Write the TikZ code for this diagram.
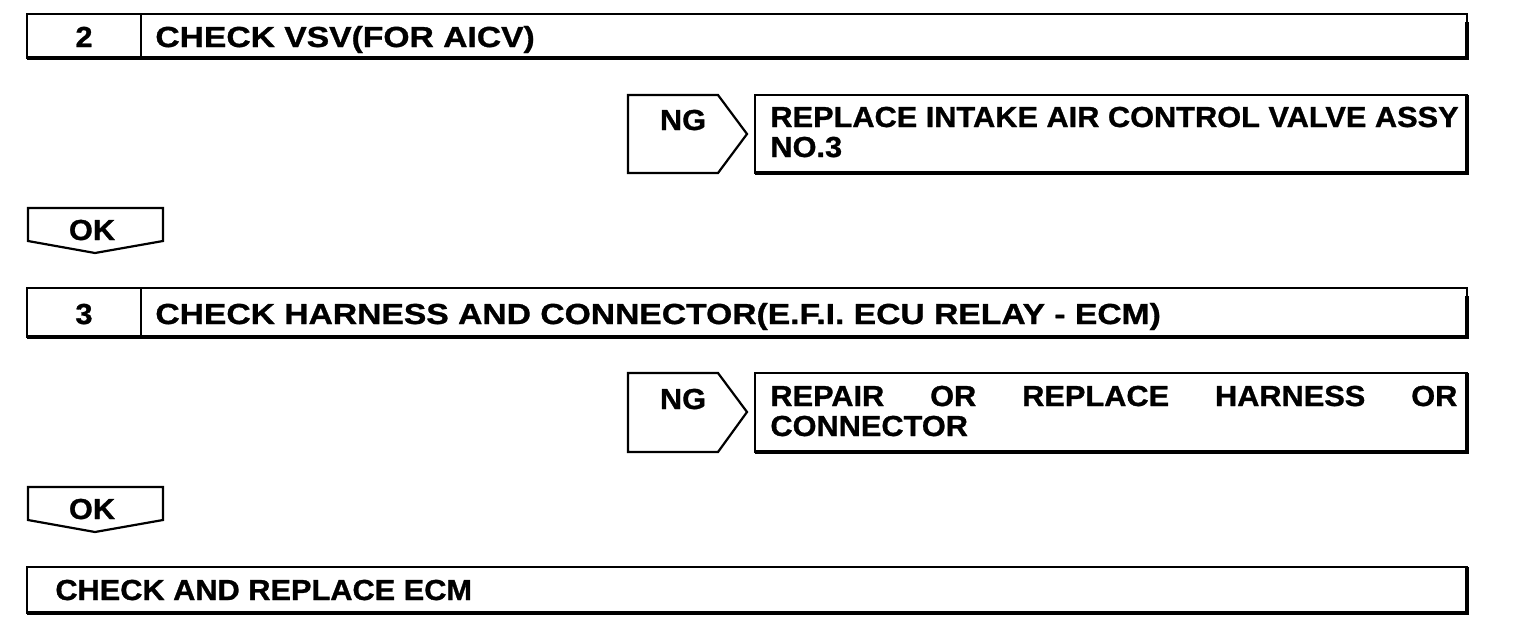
\documentclass[tikz,border=0pt]{standalone}
\usepackage{fontspec}
\setmainfont{Liberation Sans}
\newfontfamily\stepfont[FakeStretch=1.16,FakeBold=1]{Liberation Sans Bold}
\newfontfamily\bodyfont[FakeStretch=1.06,FakeBold=1]{Liberation Sans Bold}
\begin{document}
\begin{tikzpicture}[x=0.5pt,y=-0.5pt,
  frame/.style={line width=1.1pt,line join=miter},
  heavy/.style={line width=2pt},
  lbl/.style={inner sep=0pt,anchor=base west,font=\fontsize{14.5}{15}\bodyfont},
  steplbl/.style={inner sep=0pt,anchor=base west,font=\fontsize{14.5}{15}\stepfont},
  num/.style={inner sep=0pt,anchor=base,font=\fontsize{14.5}{15}\bodyfont}]
\useasboundingbox (0,0) rectangle (1520,628);
% step 2
\draw[frame] (27,14) rectangle (1467,58);
\draw[heavy] (27,58) -- (1467,58) -- (1467,22);
\draw[frame] (141,14) -- (141,58);
\node[num] (n2) at (84,47) {2};
\node[steplbl] (t2) at (155,47) {CHECK VSV(FOR AICV)};
% NG 1
\draw[frame] (628,95) -- (718,95) -- (747,134) -- (718,173) -- (628,173) -- cycle;
\node[num] (ng1) at (683,130) {NG};
\draw[frame] (755,95) rectangle (1467,173);
\draw[heavy] (755,173) -- (1467,173) -- (1467,95);
\node[lbl,align=left] (r1) at (770,157) {REPLACE INTAKE AIR CONTROL VALVE ASSY\\NO.3};
% OK 1
\draw[frame] (28,208) -- (163,208) -- (163,241) -- (95,253) -- (28,241) -- cycle;
\node[num] (ok1) at (92,240) {OK};
% step 3
\draw[frame] (27,288) rectangle (1467,337);
\draw[heavy] (27,337) -- (1467,337) -- (1467,296);
\draw[frame] (141,288) -- (141,337);
\node[num] (n3) at (84,324) {3};
\node[steplbl] (t3) at (155,324) {CHECK HARNESS AND CONNECTOR(E.F.I. ECU RELAY - ECM)};
% NG 2
\draw[frame] (628,373) -- (718,373) -- (747,412) -- (718,452) -- (628,452) -- cycle;
\node[num] (ng2) at (683,409) {NG};
\draw[frame] (755,373) rectangle (1467,452);
\draw[heavy] (755,452) -- (1467,452) -- (1467,373);
\node[lbl] (r2) at (770,436) {\parbox[b]{343.5pt}{\lineskip=0pt REPAIR\hfill OR\hfill REPLACE\hfill HARNESS\hfill OR\\CONNECTOR}};
% OK 2
\draw[frame] (28,487) -- (163,487) -- (163,520) -- (95,532) -- (28,520) -- cycle;
\node[num] (ok2) at (92,519) {OK};
% final
\draw[frame] (27,567) rectangle (1467,613);
\draw[heavy] (27,613) -- (1467,613) -- (1467,567);
\node[lbl] (t4) at (55,600) {CHECK AND REPLACE ECM};
\end{tikzpicture}
\end{document}
